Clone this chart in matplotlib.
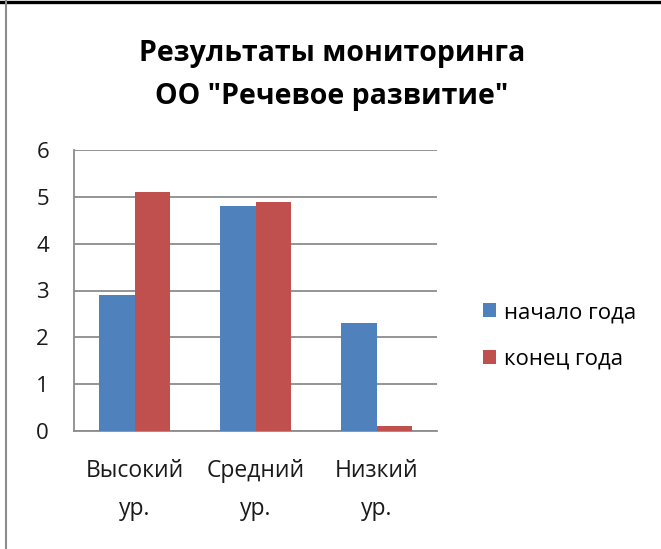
import matplotlib
matplotlib.use("Agg")
import matplotlib.pyplot as plt
import numpy as np
from matplotlib.lines import Line2D
from matplotlib.patches import Patch

plt.rcParams['font.family'] = ['Open Sans', 'DejaVu Sans']

categories = ["Высокий\nур.", "Средний\nур.", "Низкий\nур."]
series_names = ["начало года", "конец года"]
start_values = [2.9, 4.8, 2.3]
end_values = [5.1, 4.9, 0.1]
colors = ["#4F81BD", "#C0504D"]
title = 'Результаты мониторинга\nОО "Речевое развитие"'

W, H = 661, 549
fig = plt.figure(figsize=(W / 100, H / 100), dpi=100)
ax = fig.add_axes([74 / W, 1 - 431 / H, (437 - 74) / W, (431 - 150) / H])

x = np.arange(len(categories))
bw = 0.29
ax.bar(x - bw / 2, start_values, bw, color=colors[0], label=series_names[0], zorder=3)
ax.bar(x + bw / 2, end_values, bw, color=colors[1], label=series_names[1], zorder=3)

ax.set_xlim(-0.5, len(categories) - 0.5)
ax.set_ylim(0, 6)
ax.set_yticks(range(0, 7))
ax.yaxis.grid(True, color="#8C8C8C", linewidth=1.3, zorder=0)
ax.set_axisbelow(True)
for s in ["top", "right"]:
    ax.spines[s].set_visible(False)
for s in ["left", "bottom"]:
    ax.spines[s].set_color("#8C8C8C")
    ax.spines[s].set_linewidth(1.3)
ax.tick_params(axis="both", length=0, colors="#1a1a1a")
ax.tick_params(axis="y", pad=18, labelsize=16)
ax.tick_params(axis="x", pad=20, labelsize=16.5)
ax.set_xticks(x)
ax.set_xticklabels(categories, linespacing=1.8)

fig.text(332 / W, 1 - 75 / H, title, ha="center", va="center",
         fontsize=20.5, fontweight="bold", linespacing=1.68, color="#000000")

handles = [Patch(facecolor=c) for c in colors]
fig.legend(handles, series_names, loc="center left", bbox_to_anchor=(463 / W, 1 - 336 / H),
           frameon=False, fontsize=16, handlelength=0.6, handleheight=0.6,
           handletextpad=0.35, labelspacing=1.15)

# figure border lines
fig.add_artist(Line2D([0, 1], [1 - 1.5 / H, 1 - 1.5 / H], transform=fig.transFigure,
                      color="black", linewidth=2.4))
fig.add_artist(Line2D([6 / W, 6 / W], [0, 1], transform=fig.transFigure,
                      color="#8C8C8C", linewidth=1.5))

fig.savefig("out.png", dpi=100)
